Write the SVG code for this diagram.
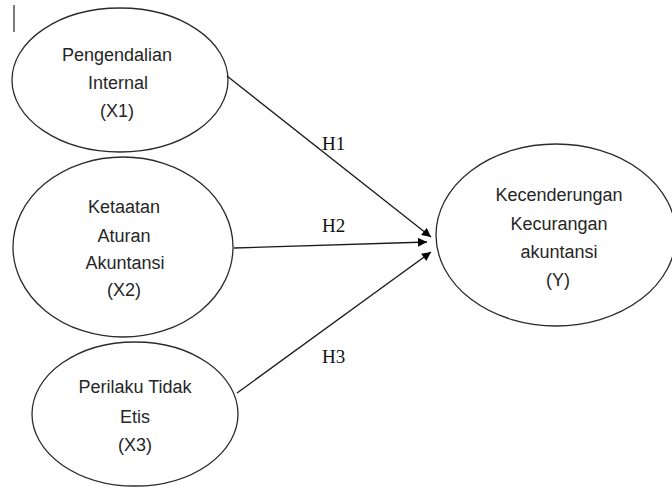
<svg xmlns="http://www.w3.org/2000/svg" width="672" height="488" viewBox="0 0 672 488">
<style>
.node ellipse{fill:#fff;stroke:#2b2b2b;stroke-width:1.3}
.lbl{font-family:"Liberation Sans",Arial,sans-serif;font-size:18px;fill:#262626;text-anchor:middle}
.h{font-family:"Liberation Serif","Times New Roman",serif;font-size:19px;fill:#111}
.conn line{stroke:#1a1a1a;stroke-width:1.3;fill:none}
</style>
<defs>
<marker id="arr" viewBox="0 0 10 10" refX="10" refY="5" markerWidth="10" markerHeight="9" markerUnits="userSpaceOnUse" orient="auto">
<path d="M0,0 L10,5 L0,10 Z" fill="#000"/>
</marker>
</defs>
<line x1="14" y1="5" x2="14" y2="32" stroke="#333" stroke-width="1.3"/>
<g id="x1" class="node">
<ellipse cx="120" cy="80" rx="108" ry="72"/>
<text class="lbl" x="117" y="61">Pengendalian</text>
<text class="lbl" x="118" y="89">Internal</text>
<text class="lbl" x="117" y="117">(X1)</text>
</g>
<g id="x2" class="node">
<ellipse cx="123" cy="247" rx="110" ry="90"/>
<text class="lbl" x="124" y="213">Ketaatan</text>
<text class="lbl" x="124" y="242">Aturan</text>
<text class="lbl" x="125" y="269">Akuntansi</text>
<text class="lbl" x="124" y="296">(X2)</text>
</g>
<g id="x3" class="node">
<ellipse cx="135" cy="414" rx="103" ry="72"/>
<text class="lbl" x="135" y="393">Perilaku Tidak</text>
<text class="lbl" x="135" y="423">Etis</text>
<text class="lbl" x="135" y="451">(X3)</text>
</g>
<g id="y" class="node">
<ellipse cx="556" cy="235" rx="120" ry="91"/>
<text class="lbl" x="559" y="201">Kecenderungan</text>
<text class="lbl" x="559" y="230">Kecurangan</text>
<text class="lbl" x="559" y="258">akuntansi</text>
<text class="lbl" x="558" y="286">(Y)</text>
</g>
<g id="connectors" class="conn">
<line x1="227" y1="76" x2="431" y2="237" marker-end="url(#arr)"/>
<line x1="234" y1="248" x2="427" y2="242" marker-end="url(#arr)"/>
<line x1="237" y1="393" x2="431" y2="252" marker-end="url(#arr)"/>
<text class="h" x="322" y="150">H1</text>
<text class="h" x="322" y="232">H2</text>
<text class="h" x="322" y="363">H3</text>
</g>
</svg>
